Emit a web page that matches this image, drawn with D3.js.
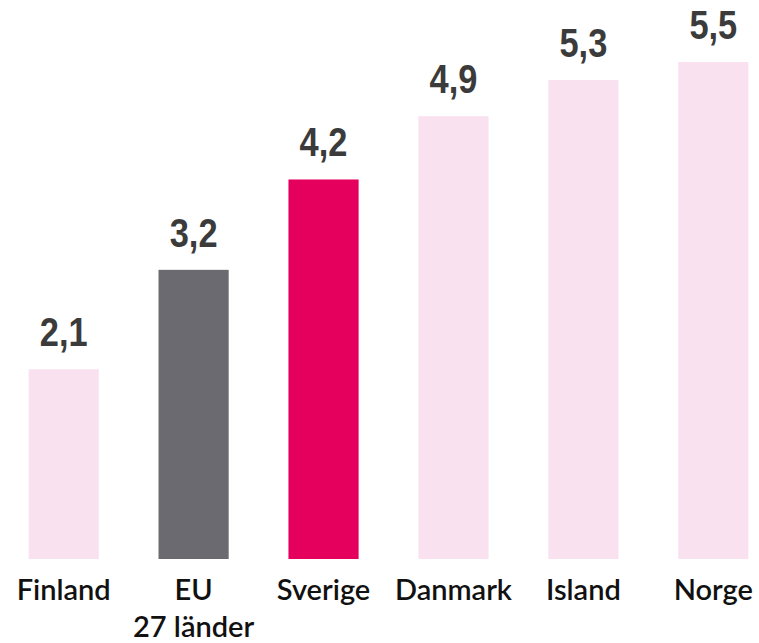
<!DOCTYPE html>
<meta charset="utf-8">
<head>
  <title>Bar chart</title>
</head>
<style>
  body { margin: 0; background: #fff; }
  .value { font: 900 41px "Liberation Sans", Arial, sans-serif; fill: #3b3b3b; text-anchor: middle; }
  .cat { font: 600 29px Lato, "Liberation Sans", sans-serif; fill: #111; text-anchor: middle; }
</style>
<body>
<script src="https://cdn.jsdelivr.net/npm/d3@7"></script>
<script>
// data
var categories = ["Finland", "EU|27 länder", "Sverige", "Danmark", "Island", "Norge"];
var values = [2.1, 3.2, 4.2, 4.9, 5.3, 5.5];
var colors = ["#f9e1ef", "#6b6a70", "#e6005e", "#f9e1ef", "#f9e1ef", "#f9e1ef"];

var width = 759, height = 643;
var baseline = 559;

var svg = d3.select("body").append("svg")
    .attr("width", width)
    .attr("height", height);

var x = d3.scaleBand()
    .domain(categories)
    .range([0, 777])
    .paddingInner(0.46)
    .paddingOuter(0.22);

var y = d3.scaleLinear()
    .domain([0, 5.5])
    .range([baseline, 62]);

var data = categories.map(function(c, i) { return {cat: c, value: values[i], color: colors[i]}; });

// bars
svg.selectAll(".bar")
    .data(data)
  .enter().append("rect")
    .attr("class", "bar")
    .attr("x", function(d) { return x(d.cat); })
    .attr("width", x.bandwidth())
    .attr("y", function(d) { return y(d.value); })
    .attr("height", function(d) { return baseline - y(d.value); })
    .attr("fill", function(d) { return d.color; });

// value labels (squeezed a bit, the original face is narrow)
svg.selectAll(".value")
    .data(data)
  .enter().append("text")
    .attr("class", "value")
    .attr("transform", function(d) {
      return "translate(" + (x(d.cat) + x.bandwidth() / 2) + "," + (y(d.value) - 23) + ") scale(0.84,1)";
    })
    .text(function(d) { return d.value.toFixed(1).replace(".", ","); });

// category labels
var cats = svg.selectAll(".cat")
    .data(data)
  .enter().append("text")
    .attr("class", "cat")
    .attr("x", function(d) { return x(d.cat) + x.bandwidth() / 2; })
    .attr("y", 600);

cats.selectAll("tspan")
    .data(function(d) { return d.cat.split("|"); })
  .enter().append("tspan")
    .attr("x", function() { return d3.select(this.parentNode).attr("x"); })
    .attr("dy", function(d, i) { return i ? 37 : 0; })
    .text(function(d) { return d; });
</script>
</body>
